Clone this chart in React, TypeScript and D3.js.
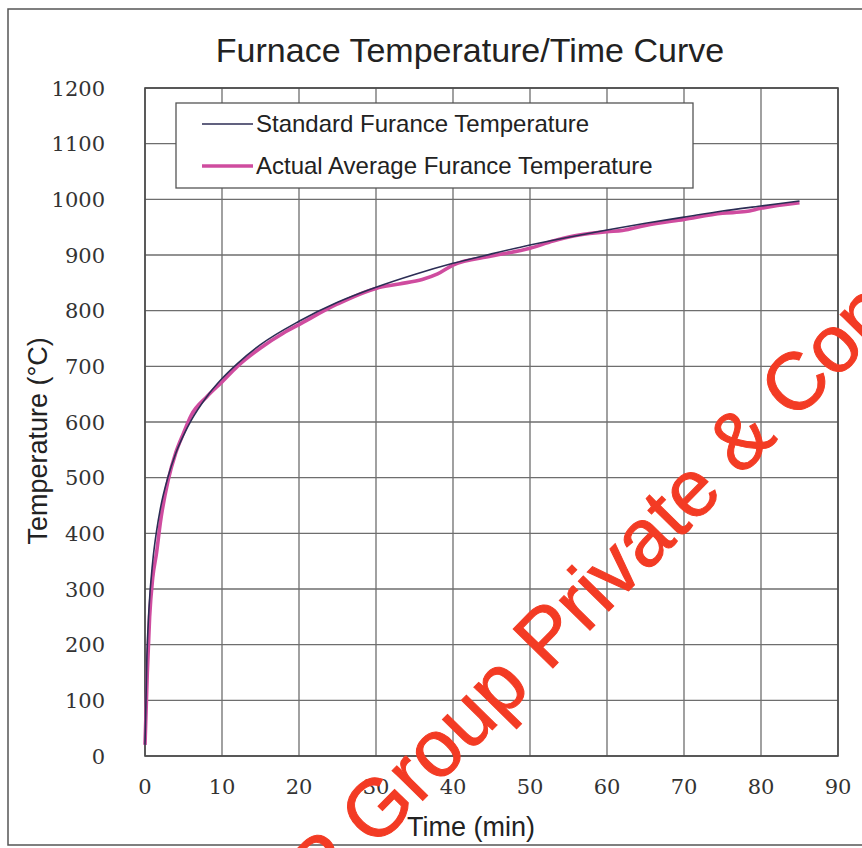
import React from "react";
import * as d3 from "d3";

// values
const xTicks = [0, 10, 20, 30, 40, 50, 60, 70, 80, 90];
const yTicks = [0, 100, 200, 300, 400, 500, 600, 700, 800, 900, 1000, 1100, 1200];

const standardTime = [0, 0.25, 0.5, 1, 1.5, 2, 3, 4, 5, 6, 8, 10, 12, 15, 20, 25, 30, 35, 40, 45, 50, 55, 60, 65, 70, 75, 80, 85];
const standardTemp = [20, 180, 261, 349, 404, 445, 502, 544, 576, 603, 645, 678, 705, 739, 781, 815, 842, 865, 885, 902, 918, 932, 945, 957, 968, 979, 988, 997];

const actualTime = [0, 0.3, 0.6, 1, 1.5, 2, 3, 4, 5, 6, 8, 10, 12, 15, 18, 20, 25, 30, 33, 36, 38, 40, 45, 50, 53, 56, 60, 62, 65, 70, 75, 78, 80, 85];
const actualTemp = [20, 150, 250, 320, 365, 420, 495, 545, 580, 612, 645, 672, 700, 733, 760, 775, 812, 840, 848, 856, 866, 882, 898, 912, 925, 935, 942, 944, 953, 964, 975, 978, 984, 994];

const seriesNames = ["Standard Furance Temperature", "Actual Average Furance Temperature"];

const W = 862;
const H = 848;
const plot = { left: 145, right: 838, top: 88, bottom: 756 };

const SANS = "'Liberation Sans', Arial, Helvetica, sans-serif";
const SERIF = "'DejaVu Serif', 'Liberation Serif', serif";

export default function App() {
  const x = d3.scaleLinear().domain([0, 90]).range([plot.left, plot.right]);
  const y = d3.scaleLinear().domain([0, 1200]).range([plot.bottom, plot.top]);

  const line = d3
    .line<[number, number]>()
    .x(d => x(d[0]))
    .y(d => y(d[1]))
    .curve(d3.curveMonotoneX);

  const standard = line(standardTime.map((t, i) => [t, standardTemp[i]] as [number, number])) || "";
  const actual = line(actualTime.map((t, i) => [t, actualTemp[i]] as [number, number])) || "";

  const gridColor = "#6e6e6e";
  const stdColor = "#2c2d55";
  const actColor = "#cf4c9f";

  // watermark geometry
  const wmAngle = -45.5;
  const wmX = 322;
  const wmY = 903;

  return (
    <svg
      width={W}
      height={H}
      style={{ position: "absolute", left: 0, top: 0, background: "#fff" }}
    >
      {/* scan frame */}
      <rect x={8} y={9} width={W + 20} height={836} fill="none" stroke="#555" strokeWidth={1.5} />

      <text x={470} y={62} textAnchor="middle" fontFamily={SANS} fontSize={34} fill="#222">
        Furnace Temperature/Time Curve
      </text>

      {/* grid */}
      <g stroke={gridColor} strokeWidth={1.3}>
        {xTicks.map(t => (
          <line key={"vx" + t} x1={x(t)} x2={x(t)} y1={plot.top} y2={plot.bottom} />
        ))}
        {yTicks.map(t => (
          <line key={"hy" + t} x1={plot.left} x2={plot.right} y1={y(t)} y2={y(t)} />
        ))}
      </g>
      <rect
        x={plot.left}
        y={plot.top}
        width={plot.right - plot.left}
        height={plot.bottom - plot.top}
        fill="none"
        stroke="#4a4a4a"
        strokeWidth={1.6}
      />

      {/* tick labels */}
      {yTicks.map(t => (
        <text
          key={"yl" + t}
          x={105}
          y={y(t)}
          dy="0.36em"
          textAnchor="end"
          fontFamily={SERIF}
          fontSize={21}
          fill="#333"
        >
          {t}
        </text>
      ))}
      {xTicks.map(t => (
        <text
          key={"xl" + t}
          x={x(t)}
          y={794}
          textAnchor="middle"
          fontFamily={SERIF}
          fontSize={21}
          fill="#333"
        >
          {t}
        </text>
      ))}

      <text x={471} y={836} textAnchor="middle" fontFamily={SANS} fontSize={27} fill="#222">
        Time (min)
      </text>
      <text
        transform={`translate(47,${y(566)}) rotate(-90)`}
        textAnchor="middle"
        fontFamily={SANS}
        fontSize={27}
        fill="#222"
      >
        Temperature (°C)
      </text>

      {/* series */}
      <path d={actual} fill="none" stroke={actColor} strokeWidth={3.6} strokeLinejoin="round" />
      <path d={standard} fill="none" stroke={stdColor} strokeWidth={1.6} strokeLinejoin="round" />

      {/* legend */}
      <g>
        <rect x={176} y={103} width={517} height={85} fill="#fff" stroke="#555" strokeWidth={1.3} />
        <line x1={202} x2={253} y1={124} y2={124} stroke={stdColor} strokeWidth={1.6} />
        <line x1={202} x2={253} y1={166} y2={166} stroke={actColor} strokeWidth={3.6} />
        <text x={256} y={132} fontFamily={SANS} fontSize={24} fill="#222">
          {seriesNames[0]}
        </text>
        <text x={256} y={174} fontFamily={SANS} fontSize={24} fill="#222">
          {seriesNames[1]}
        </text>
      </g>

      {/* watermark stamped over the scan */}
      <text
        transform={`translate(${wmX},${wmY}) rotate(${wmAngle})`}
        fontFamily={SANS}
        fontSize={81}
        fill="#f33b24"
        stroke="#f33b24"
        strokeWidth={1}
      >
        P Group Private &amp; Confidential
      </text>
    </svg>
  );
}
